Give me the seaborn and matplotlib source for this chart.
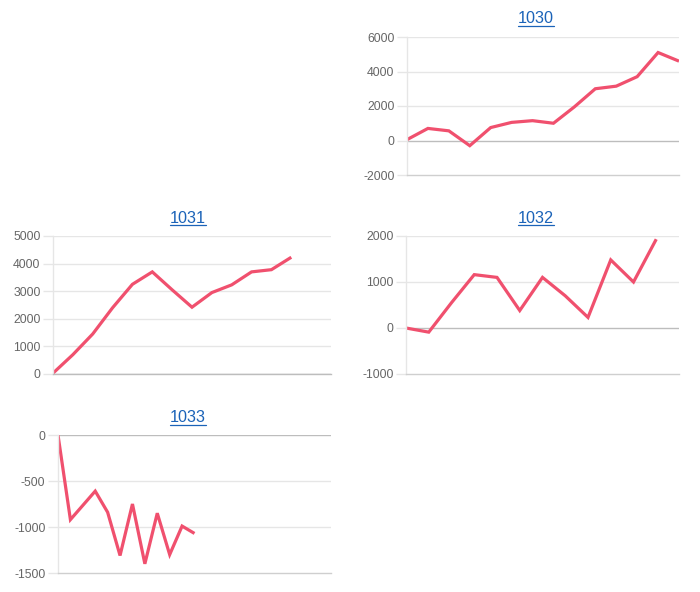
import numpy as np
import pandas as pd
import matplotlib
matplotlib.use("Agg")
import matplotlib.pyplot as plt
import seaborn as sns
from matplotlib.lines import Line2D

nan = np.nan

# ---- data ----
titles = ["1030", "1031", "1032", "1033"]
v1030 = [50, 700, 560, -300, 750, 1050, 1150, 1000, 1950, 3000, 3150, 3700, 5100, 4600]
v1031 = [30, 700, 1450, 2400, 3250, 3700, 3050, 2420, 2950, 3230, 3700, 3780, 4230, nan, nan]
v1032 = [0, -90, 550, 1160, 1100, 380, 1100, 700, 230, 1480, 1000, 1930, nan]
v1033 = [0, -920, -765, -610, -840, -1310, -750, -1400, -850, -1300, -990, -1070,
         nan, nan, nan, nan, nan, nan, nan, nan, nan, nan, nan]
series = [v1030, v1031, v1032, v1033]
yticks = [
    [-2000, 0, 2000, 4000, 6000],
    [0, 1000, 2000, 3000, 4000, 5000],
    [-1000, 0, 1000, 2000],
    [-1500, -1000, -500, 0],
]

# ---- style ----
sns.set_style("white")
plt.rcParams["font.family"] = ["Liberation Sans", "DejaVu Sans"]

W, H = 700, 592
fig = plt.figure(figsize=(W / 100, H / 100), dpi=100)

# axes boxes in pixels: left, top, right, bottom
boxes = [(407, 37, 679, 175), (53, 236, 331, 374), (406, 236, 679, 374), (58, 435, 331, 573)]
# title centre x and baseline y / underline y, pixels
title_pos = [(536, 23.3, 25.6), (188, 222.6, 224.8), (536, 222.6, 224.8), (188, 422.3, 424.5)]

LINE = "#f0506e"
GRID = "#e6e6e6"
ZERO = "#bdbdbd"
TICK = "#666666"
LINK = "#1b63b8"

for vals, ticks, box, tp, title in zip(series, yticks, boxes, title_pos, titles):
    l, t, r, b = box
    ax = fig.add_axes([l / W, 1 - b / H, (r - l) / W, (b - t) / H])
    df = pd.DataFrame({"x": np.arange(len(vals)), "y": vals})
    sns.lineplot(data=df.dropna(), x="x", y="y", ax=ax, color=LINE, linewidth=2.3,
                 solid_joinstyle="miter", solid_capstyle="butt")
    ax.set_xlim(0, len(vals) - 1)
    ax.set_ylim(ticks[0], ticks[-1])
    ax.set_yticks(ticks)
    ax.set_yticklabels([str(v) for v in ticks])
    ax.set_xticks([])
    ax.set_xlabel("")
    ax.set_ylabel("")
    for v in ticks:
        if v == 0:
            ax.axhline(v, color=ZERO, lw=1, zorder=0.5)
        elif v != ticks[0]:
            ax.axhline(v, color=GRID, lw=1, zorder=0.5)
    for s in ["top", "right"]:
        ax.spines[s].set_visible(False)
    ax.spines["left"].set_color(GRID)
    ax.spines["left"].set_linewidth(1)
    ax.spines["bottom"].set_color(ZERO if ticks[0] == 0 else "#cfcfcf")
    ax.spines["bottom"].set_linewidth(1)
    ax.tick_params(axis="y", length=7, width=1, color=GRID, pad=2,
                   labelsize=8.8, labelcolor=TICK, left=True)
    ax.patch.set_alpha(0)

    cx, base, uy = tp
    txt = fig.text(cx / W, 1 - base / H, title, ha="center", va="baseline",
                   fontsize=11.7, color=LINK)
    fig.canvas.draw()
    bb = txt.get_window_extent()
    fig.add_artist(Line2D([bb.x0 / W, bb.x1 / W], [1 - uy / H, 1 - uy / H],
                          transform=fig.transFigure, color=LINK, lw=0.9))

fig.savefig("out.png", dpi=100)
